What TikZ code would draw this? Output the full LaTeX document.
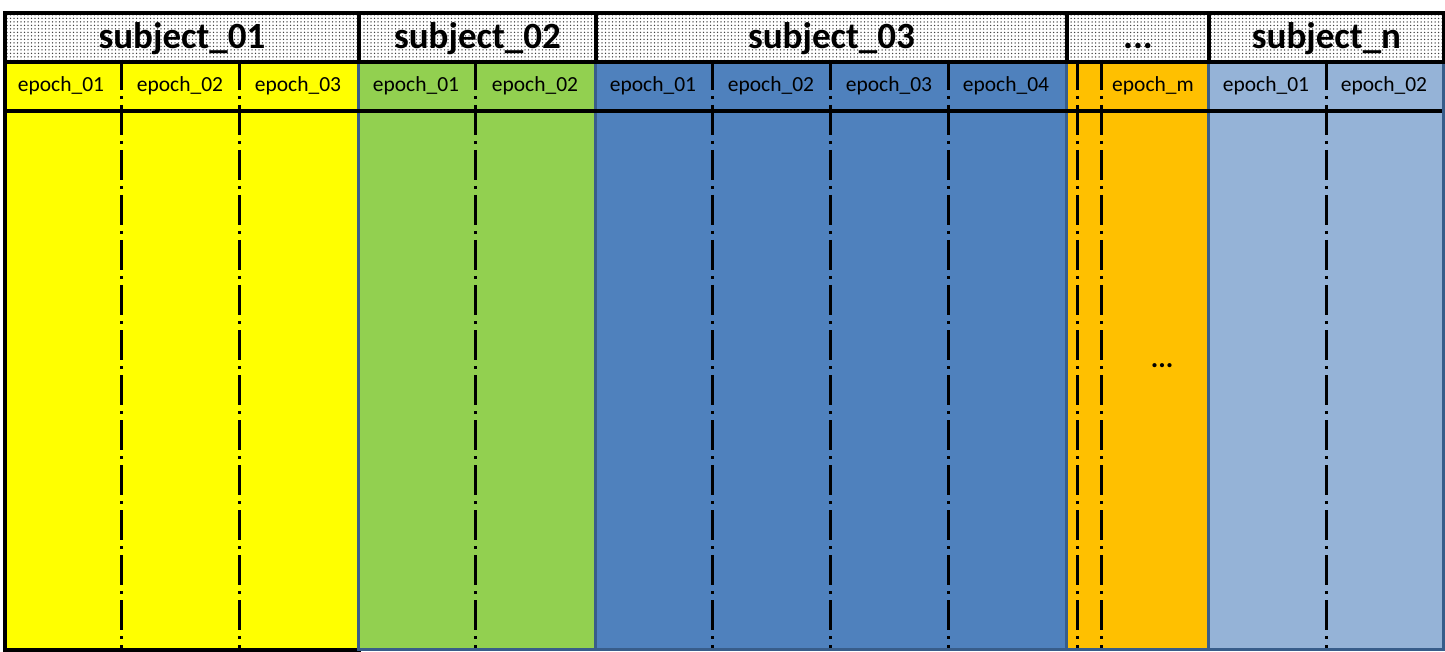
\documentclass[tikz,border=0pt]{standalone}
\usepackage{fontspec}
\setmainfont{Carlito}
\usetikzlibrary{patterns}
\pgfdeclarepatternformonly{bigdots}{\pgfqpoint{-1pt}{-1pt}}{\pgfqpoint{3pt}{3pt}}{\pgfqpoint{3.5pt}{3.5pt}}{%
  \pgfpathcircle{\pgfqpoint{0pt}{0pt}}{0.75pt}%
  \pgfusepath{fill}%
}
\definecolor{cyel}{HTML}{FFFF00}
\definecolor{cgreen}{HTML}{92D050}
\definecolor{cblue}{HTML}{4F81BD}
\definecolor{corange}{HTML}{FFC000}
\definecolor{clight}{HTML}{95B3D7}
\definecolor{cslate}{HTML}{385D8A}
\tikzset{
  colbox/.style={draw=cslate, line width=3pt, inner sep=0pt, anchor=north west, minimum height=588pt},
  headbox/.style={draw=black, line width=4pt, inner sep=0pt, anchor=north west, minimum height=49pt,
    pattern=bigdots, pattern color=black!75,
    font=\bfseries\fontsize{37}{37}\selectfont, text height=27pt, text depth=4pt},
  epochlbl/.style={anchor=base, inner sep=0pt, font=\fontsize{21.5}{22}\selectfont},
  dashdotline/.style={line width=3pt, dash pattern=on 30pt off 6pt on 3pt off 6pt},
  sepline/.style={line width=4pt, draw=black}
}
\begin{document}
\begin{tikzpicture}[x=1pt,y=-1pt]
\useasboundingbox (0,0) rectangle (1445,652);
% body columns
\node[colbox, draw=black, line width=4pt, fill=cyel, minimum width=354pt] (b1) at (3,60) {};
\node[colbox, fill=cgreen, minimum width=237pt] (b2) at (357,60) {};
\node[colbox, fill=cblue, minimum width=471pt] (b3) at (594,60) {};
\node[colbox, fill=corange, minimum width=142pt] (b4) at (1065,60) {};
\node[colbox, fill=clight, minimum width=235pt] (b5) at (1207,60) {};
% header cells
\node[headbox, minimum width=354pt] (h1) at (3,11) {subject\_01};
\node[headbox, minimum width=237pt] (h2) at (357,11) {subject\_02};
\node[headbox, minimum width=471pt] (h3) at (594,11) {subject\_03};
\node[headbox, minimum width=142pt] (h4) at (1065,11) {...};
\node[headbox, minimum width=235pt] (h5) at (1207,11) {subject\_n};
% separator line under epoch labels
\coordinate (sl) at (3,111);
\coordinate (sr) at (1442,111);
\draw[sepline] (sl) -- (sr);
% dash-dot epoch separators
\foreach \i/\x in {1/121,2/239,3/475,4/712,5/830,6/948,7/1077,8/1101,9/1326}{
  \coordinate (d\i t) at (\x,60);
  \coordinate (d\i b) at (\x,648);
  \draw[dashdotline] (d\i t) -- (d\i b);
}
% epoch labels
\node[epochlbl] (e11) at (61,92) {epoch\_01};
\node[epochlbl] (e12) at (180,92) {epoch\_02};
\node[epochlbl] (e13) at (298,92) {epoch\_03};
\node[epochlbl] (e21) at (416,92) {epoch\_01};
\node[epochlbl] (e22) at (535,92) {epoch\_02};
\node[epochlbl] (e31) at (653,92) {epoch\_01};
\node[epochlbl] (e32) at (771,92) {epoch\_02};
\node[epochlbl] (e33) at (889,92) {epoch\_03};
\node[epochlbl] (e34) at (1006,92) {epoch\_04};
\node[epochlbl] (e4m) at (1153,92) {epoch\_m};
\node[epochlbl] (e51) at (1266,92) {epoch\_01};
\node[epochlbl] (e52) at (1384,92) {epoch\_02};
% body ellipsis
\node[epochlbl, font=\bfseries\fontsize{28}{28}\selectfont] (dots) at (1162,367) {...};
\end{tikzpicture}
\end{document}
